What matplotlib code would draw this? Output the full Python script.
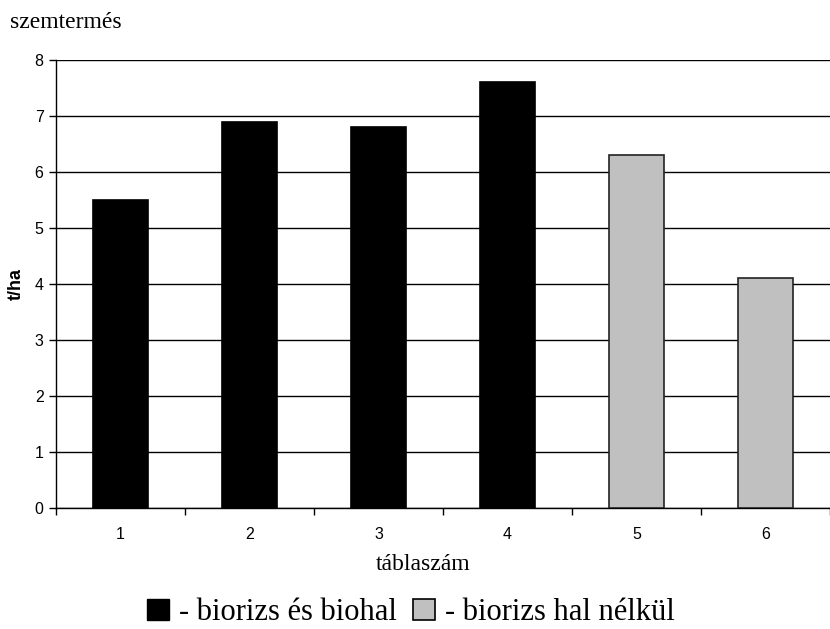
import matplotlib.pyplot as plt
from matplotlib.patches import Patch

# data
tablak = ['1', '2', '3', '4', '5', '6']
termes = [5.5, 6.9, 6.8, 7.6, 6.3, 4.1]
csoport = ['hal', 'hal', 'hal', 'hal', 'nohal', 'nohal']
y_ticks = [0, 1, 2, 3, 4, 5, 6, 7, 8]

szinek = {'hal': 'black', 'nohal': '#c0c0c0'}
elek = {'hal': 'black', 'nohal': '#222222'}

fig = plt.figure(figsize=(8.3, 6.29), dpi=100)
ax = fig.add_axes([0.0675, 0.1924, 0.9325, 0.7122])

x = list(range(len(tablak)))
ax.set_axisbelow(True)
ax.yaxis.grid(True, color='black', linewidth=1)
ax.bar(x, termes, width=0.42,
       color=[szinek[c] for c in csoport],
       edgecolor=[elek[c] for c in csoport], linewidth=1.2, zorder=3)

ax.set_xlim(-0.5, len(tablak) - 0.5)
ax.set_ylim(0, 8)
ax.set_yticks(y_ticks)
ax.set_xticks(x)
ax.set_xticklabels(tablak, fontfamily='Liberation Sans', fontsize=11.5)
ax.set_xticks([i - 0.5 for i in range(len(tablak) + 1)], minor=True)
ax.tick_params(axis='x', which='major', length=0, pad=14)
ax.tick_params(axis='x', which='minor', length=5, width=1, direction='out')
ax.tick_params(axis='y', length=5, width=1, direction='out', pad=4)
for lab in ax.get_yticklabels():
    lab.set_fontfamily('Liberation Sans')
    lab.set_fontsize(11.5)

for side in ['top', 'right']:
    ax.spines[side].set_visible(False)
ax.spines['left'].set_linewidth(1)
ax.spines['bottom'].set_linewidth(1)

ax.set_ylabel('t/ha', fontfamily='Liberation Sans', fontweight='bold',
              fontsize=13)
ax.yaxis.set_label_coords(-0.040, 0.5)

# x label sits a bit left of the axis centre in the original
fig.text(0.5096, 0.0938, 'táblaszám', fontfamily='Liberation Serif',
         fontsize=17, ha='center', va='baseline')

fig.text(0.012, 0.9555, 'szemtermés', fontfamily='Liberation Serif',
         fontsize=17, ha='left', va='baseline')

handles = [Patch(facecolor='black', edgecolor='black'),
           Patch(facecolor='#c0c0c0', edgecolor='black', linewidth=1.2)]
fig.legend(handles, ['- biorizs és biohal', '- biorizs hal nélkül'],
           loc='center', bbox_to_anchor=(0.4946, 0.026), ncol=2,
           frameon=False, handlelength=0.72, handleheight=0.72,
           handletextpad=0.33, columnspacing=0.52,
           borderpad=0, borderaxespad=0,
           prop={'family': 'Liberation Serif', 'size': 22})

fig.savefig('out.png', dpi=100)
